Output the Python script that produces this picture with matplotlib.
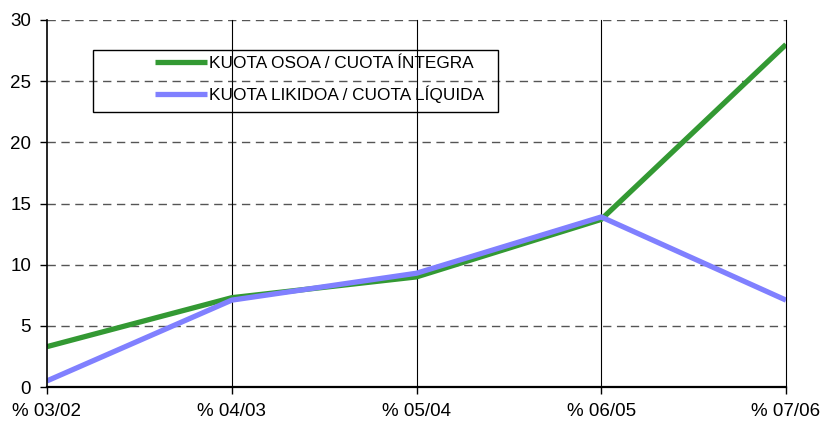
import matplotlib.pyplot as plt
from matplotlib.patches import Rectangle

plt.rcParams['font.family'] = ['Liberation Sans', 'DejaVu Sans']

# Datuak / datos
periodos = ['% 03/02', '% 04/03', '% 05/04', '% 06/05', '% 07/06']
cuota_integra = [3.3, 7.3, 9.0, 13.7, 28.0]
cuota_liquida = [0.5, 7.1, 9.3, 13.9, 7.1]
etiquetas = ['KUOTA OSOA / CUOTA ÍNTEGRA', 'KUOTA LIKIDOA / CUOTA LÍQUIDA']
colores = ['#339933', '#8080ff']

fig = plt.figure(figsize=(8.26, 4.22), dpi=100)
ax = fig.add_axes([47 / 826, 35 / 422, 739 / 826, 367 / 422])

x = range(len(periodos))
l1, = ax.plot(x, cuota_integra, color=colores[0], lw=3.8, solid_capstyle='butt')
l2, = ax.plot(x, cuota_liquida, color=colores[1], lw=3.8, solid_capstyle='butt')

ax.set_xlim(0, len(periodos) - 1)
ax.set_ylim(0, 30)
ax.set_yticks(range(0, 31, 5))
ax.set_xticks(list(x))
ax.set_xticklabels(periodos)

# rejilla: horizontales discontinuas, verticales continuas
for v in range(5, 31, 5):
    ax.axhline(v, color='#555555', lw=1, ls=(0, (6, 4)), zorder=0)
for i in x:
    if i > 0:
        ax.axvline(i, color='black', lw=0.8, zorder=0, clip_on=False)

for s in ['top', 'right']:
    ax.spines[s].set_visible(False)
ax.spines['left'].set_linewidth(1.2)
ax.spines['bottom'].set_linewidth(1.6)
ax.tick_params(axis='both', direction='out', length=5, width=1, labelsize=13.5, pad=6.5)

# leyenda con marco
fig.patches.append(Rectangle((93 / 826, 1 - 112 / 422), 405 / 826, 62 / 422,
                             transform=fig.transFigure, fill=False, edgecolor='black', lw=1))
fig.legend([l1, l2], etiquetas, loc='upper left', bbox_to_anchor=(155 / 826, 1 - 56 / 422),
           frameon=False, fontsize=12.4, handlelength=3.0, handletextpad=0.15,
           labelspacing=0.85, borderpad=0, borderaxespad=0)

plt.savefig('out.png', dpi=100)
